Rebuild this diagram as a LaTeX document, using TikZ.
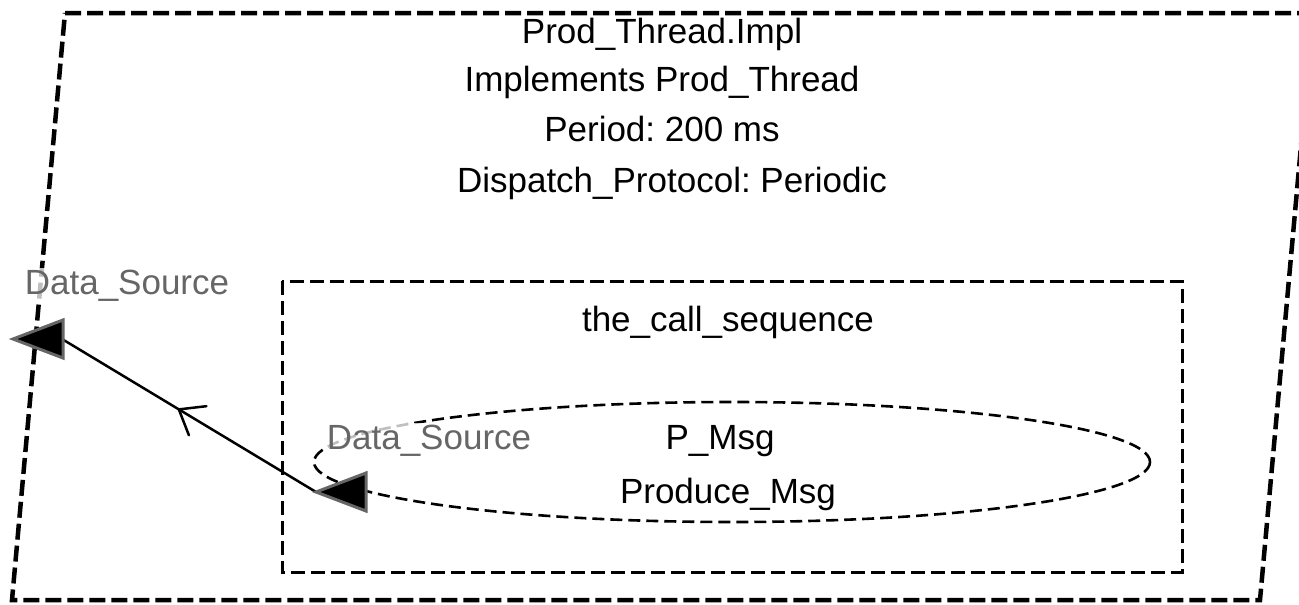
\documentclass[tikz,border=0pt]{standalone}
\usepackage{fontspec}
\setmainfont{Liberation Sans}
\usetikzlibrary{decorations.markings}
\definecolor{labelgray}{HTML}{666666}
\tikzset{
  txt/.style={anchor=base, inner sep=0pt, font=\fontsize{35}{40}\selectfont},
  portlabel/.style={txt, text=labelgray, fill=white, fill opacity=0.75, text opacity=1, inner sep=2pt},
  threadframe/.style={draw, line width=4.5pt, dash pattern=on 16pt off 6pt},
  seqframe/.style={draw, line width=3pt, dash pattern=on 14pt off 6pt},
  callframe/.style={draw, line width=2.6pt, dash pattern=on 12pt off 6pt},
  porttri/.style={fill=black, draw=labelgray, line width=3pt, line join=miter},
  flow/.style={draw, line width=2.5pt,
    postaction={decorate, decoration={markings, mark=at position 0.54 with
      {\draw[line width=2.5pt, line cap=round] (-22pt,17pt) -- (0,0) -- (-22pt,-17pt);}}}}
}
\begin{document}
\frenchspacing
\begin{tikzpicture}[x=1pt, y=-1pt]
\useasboundingbox (0,0) rectangle (1299,605);

% thread implementation frame
\path[threadframe] (65,13) -- (1313,13) -- (1260,600) -- (12,600) -- cycle;
\node[txt] (name)  at (662,43)  {Prod\_Thread.Impl};
\node[txt] (impl)  at (662,91)  {Implements Prod\_Thread};
\node[txt] (per)   at (662,141) {Period: 200 ms};
\node[txt] (disp)  at (672,192) {Dispatch\_Protocol: Periodic};

% call sequence
\path[seqframe] (282,281) rectangle (1182,572);
\node[txt] (seq) at (728,331) {the\_call\_sequence};

% subprogram call
\path[callframe] (732,462) ellipse [x radius=418, y radius=60];
\node[txt] (pmsg) at (720,449) {P\_Msg};
\node[txt] (prod) at (728,503) {Produce\_Msg};

% ports and data flow
\coordinate (callport) at (316,492);
\coordinate (threadport) at (13,339);
\coordinate (threadbase) at (62,339);
\path[flow] (callport) -- (threadbase);
\path[porttri] (threadport) -- ++(50,-19) -- ++(0,38) -- cycle;
\path[porttri] (callport) -- ++(50,-19) -- ++(0,38) -- cycle;

\node[portlabel] (lbl1) at (127,294) {Data\_Source};
\node[portlabel] (lbl2) at (429,449) {Data\_Source};
\end{tikzpicture}
\end{document}
